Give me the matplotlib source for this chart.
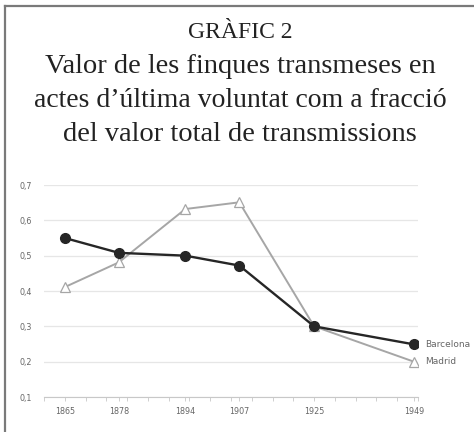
import numpy as np
import matplotlib.pyplot as plt
from matplotlib.ticker import MultipleLocator

# Data
years = [1865, 1878, 1894, 1907, 1925, 1949]
barcelona = [0.55, 0.508, 0.50, 0.472, 0.30, 0.249]
madrid = [0.411, 0.481, 0.632, 0.651, 0.30, 0.20]
yticks = [0.1, 0.2, 0.3, 0.4, 0.5, 0.6, 0.7]
title_lines = ["GRÀFIC 2",
               "Valor de les finques transmeses en",
               "actes d\u2019última voluntat com a fracció",
               "del valor total de transmissions"]

W, H = 474, 432
fig = plt.figure(figsize=(W / 100, H / 100), dpi=100)

# Frame: only top and left edges are visible
fig.add_artist(plt.Line2D([4.5 / W, 4.5 / W], [0, 1 - 5.5 / H], transform=fig.transFigure,
                          color='#7a7a7a', lw=1.6))
fig.add_artist(plt.Line2D([4.5 / W, 1], [1 - 5.5 / H, 1 - 5.5 / H], transform=fig.transFigure,
                          color='#7a7a7a', lw=1.6))

# Title (baselines in pixels)
title_y = [38, 73, 107, 141]
title_size = [17, 20.5, 20, 20.5]
for line, y, s in zip(title_lines, title_y, title_size):
    fig.text(0.5 + 3 / W, 1 - y / H, line, ha='center', va='baseline',
             family='Liberation Serif', fontsize=s, color='#222222')

# Axes placed at pixel positions
x0, x1, y0, y1 = 44, 418, 397, 185
ax = fig.add_axes([x0 / W, 1 - y0 / H, (x1 - x0) / W, (y0 - y1) / H])
ax.set_xlim(1860, 1950)
ax.set_ylim(0.1, 0.7)

ax.set_yticks(yticks)
ax.set_yticklabels([f"{v:.1f}".replace('.', ',') for v in yticks])
ax.grid(axis='y', color='#e6e6e6', lw=0.9)
ax.set_axisbelow(True)

ax.set_xticks(years)
ax.set_xticklabels([str(y) for y in years])
ax.xaxis.set_minor_locator(MultipleLocator(5))
ax.tick_params(axis='x', which='both', length=3, width=0.6, color='#c8c8c8',
               labelsize=5.8, labelcolor='#666666', pad=4)
ax.tick_params(axis='y', length=0, labelsize=5.8, labelcolor='#666666', pad=9)

for side in ['top', 'right', 'left']:
    ax.spines[side].set_visible(False)
ax.spines['bottom'].set_color('#c8c8c8')
ax.spines['bottom'].set_linewidth(0.8)

ax.plot(years, madrid, color='#a6a6a6', lw=1.4, marker='^', ms=6.5,
        markerfacecolor='white', markeredgecolor='#a6a6a6', markeredgewidth=0.9, zorder=3)
ax.plot(years, barcelona, color='#262626', lw=1.7, marker='o', ms=7,
        markerfacecolor='#262626', markeredgecolor='#262626', zorder=4)

ax.annotate('Barcelona', (years[-1], barcelona[-1]), xytext=(8, 0), textcoords='offset points',
            va='center', ha='left', fontsize=6.5, color='#666666', annotation_clip=False)
ax.annotate('Madrid', (years[-1], madrid[-1]), xytext=(8, 0), textcoords='offset points',
            va='center', ha='left', fontsize=6.5, color='#666666', annotation_clip=False)

plt.savefig('out.png', dpi=100, facecolor='white')
plt.close()
